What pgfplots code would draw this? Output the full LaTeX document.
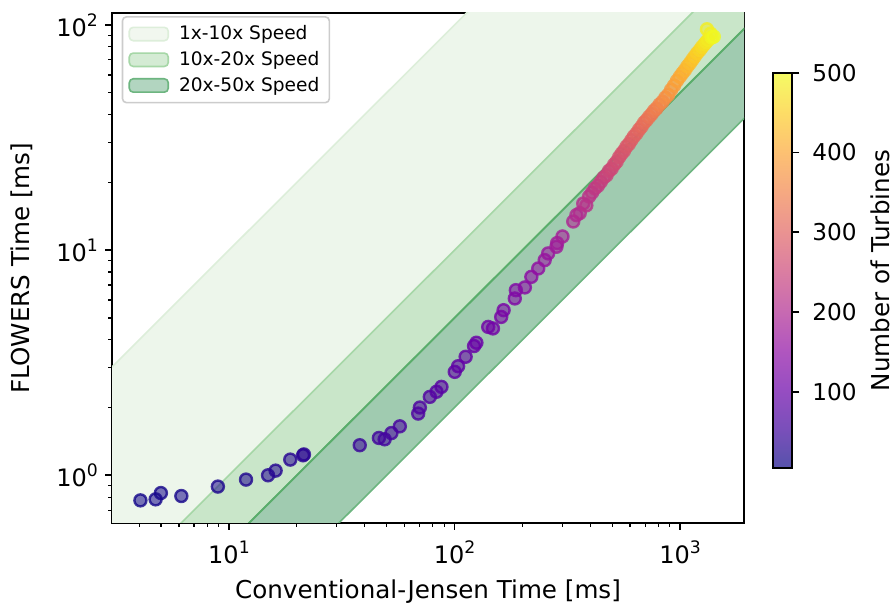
\documentclass[border=0pt]{standalone}
\usepackage{pgfplots}
\pgfplotsset{compat=1.18}
\usepackage{fontspec}
\setmainfont{DejaVu Sans}

\newcommand{\pw}[1]{10\raisebox{0.42em}{\fontsize{8.6}{10}\selectfont #1}}

\definecolor{bandA}{HTML}{EDF6EB}
\definecolor{bandAedge}{HTML}{DDEEDA}
\definecolor{bandB}{HTML}{C9E6C9}
\definecolor{bandBedge}{HTML}{A6D7A7}
\definecolor{bandC}{HTML}{A0CBB0}
\definecolor{bandCedge}{HTML}{6DB580}
\definecolor{lineC}{HTML}{5AAD6B}

\pgfplotsset{
  colormap={plasma}{rgb255=(13,8,135) rgb255=(65,4,157) rgb255=(106,0,168) rgb255=(143,13,164) rgb255=(177,42,144) rgb255=(204,71,120) rgb255=(225,100,98) rgb255=(242,132,75) rgb255=(252,166,54) rgb255=(252,206,37) rgb255=(240,249,33)},
  colormap={plasmafade}{rgb255=(86,82,171) rgb255=(122,79,186) rgb255=(151,77,194) rgb255=(177,86,191) rgb255=(200,106,177) rgb255=(219,126,161) rgb255=(234,147,145) rgb255=(246,169,129) rgb255=(253,193,114) rgb255=(253,221,102) rgb255=(245,251,100)},
}

\pgfplotstableread{
x y n
4.05 0.774 11
4.73 0.782 12
4.99 0.834 13
6.15 0.809 14
8.93 0.891 18
11.9 0.957 22
14.9 1.000 26
16.1 1.049 27
18.7 1.174 30
21.3 1.227 33
21.5 1.238 33
38.0 1.360 47
46.2 1.465 54
49.0 1.445 56
52.5 1.540 58
57.2 1.650 62
69.0 1.880 70
70.2 2.000 71
77.7 2.230 76
83.2 2.350 79
87.5 2.470 82
100.2 2.880 89
103.7 3.050 91
112 3.360 96
122 3.75 101
125 3.88 103
141 4.56 112
148 4.49 115
161 5.05 122
165 5.41 124
185 6.10 133
187 6.64 134
205 6.83 142
219 7.61 149
235 8.29 156
251 9.03 163
260 9.67 166
283 10.35 176
285 10.75 177
301 11.5 183
336 13.4 197
347 14.3 200
359 14.6 205
372 16.1 210
384 15.8 215
395 17.3 218
407 18.0 222
419 18.8 227
432 19.3 232
445 20.1 237
458 21.0 241
472 21.5 246
484 22.5 250
497 23.0 255
510 24.0 259
523 24.7 263
537 25.9 268
550 26.8 272
564 27.6 276
578 28.8 281
593 29.6 285
608 30.8 290
624 32.0 295
641 33.0 300
658 34.3 305
675 35.4 310
692 36.8 316
710 37.8 321
729 39.1 327
748 40.2 332
767 41.6 338
786 42.6 343
810 44.3 350
835 45.6 357
860 47.5 364
885 48.9 371
912 51.5 379
940 53.8 386
968 56.5 394
997 58.9 401
1023 61.0 408
1050 63.0 415
1077 65.5 422
1105 67.6 429
1132 70.0 436
1160 72.4 443
1190 75.0 450
1223 77.4 458
1250 79.8 465
1280 82.0 471
1305 84.0 478
1331 85.8 484
1365 91.5 490
1315 95.7 488
1380 88.0 494
1410 88.7 500
}\pointdata

\begin{document}
\begin{tikzpicture}
\path[use as bounding box] (-56pt,-43.5pt) rectangle (391.5pt,261.5pt);
\begin{axis}[
  at={(0,0)}, anchor=south west,
  scale only axis, width=316pt, height=255pt,
  xmode=log, ymode=log,
  xmin=3.03, xmax=1920, ymin=0.614, ymax=113,
  xtick={10,100,1000},
  xticklabels={\pw{1},\pw{2},\pw{3}},
  ytick={1,10,100},
  yticklabels={\pw{0},\pw{1},\pw{2}},
  minor xtick={4,5,6,7,8,9,20,30,40,50,60,70,80,90,200,300,400,500,600,700,800,900},
  minor ytick={0.7,0.8,0.9,2,3,4,5,6,7,8,9,20,30,40,50,60,70,80,90},
  tick pos=left, tick align=outside,
  major tick length=3.5pt, minor tick length=2pt,
  every major tick/.append style={line width=0.8pt, black},
  every minor tick/.append style={line width=0.6pt, black},
  axis line style={line width=1pt},
  ticklabel style={font=\fontsize{12}{14}\selectfont},
  xticklabel style={yshift=-2pt},
  label style={font=\fontsize{12.3}{14}\selectfont},
  xlabel={Conventional-Jensen Time [ms]},
  ylabel={FLOWERS Time [ms]},
  xlabel style={at={(axis description cs:0.5,-0.135)}, anchor=center},
  ylabel style={at={(axis description cs:-0.1424,0.5)}, anchor=center},
  legend style={at={(axis description cs:0.0153,0.994)}, anchor=north west,
    draw=black!20, line width=0.8pt, rounded corners=2pt, fill=white, fill opacity=0.8, text opacity=1,
    font=\fontsize{9.3}{11}\selectfont, inner xsep=3pt, inner ysep=2.3pt, row sep=0.3pt,
    /tikz/every odd column/.append style={column sep=3pt}},
  legend cell align=left,
  legend image code/.code={\draw[#1, line width=0.8pt] (-1.5pt,-3.35pt) rectangle (18pt,3.35pt);},
  colorbar, colormap name=plasma, point meta min=4, point meta max=500,
  colorbar style={
    colormap name=plasmafade,
    at={(parent axis.north east)}, anchor=north west, xshift=5.8pt, yshift=-29.85pt,
    scale only axis, width=9.8pt, height=197.8pt,
    ytick={100,200,300,400,500}, yticklabels={100,200,300,400,500},
    xtick=\empty,
    ytick pos=right, yticklabel pos=right, tick align=outside,
    major tick length=3.5pt,
    every major tick/.append style={line width=0.8pt, black},
    axis line style={line width=1pt},
    ticklabel style={font=\fontsize{11.6}{13}\selectfont},
    yticklabel style={xshift=3pt},
    ylabel={Number of Turbines},
    ylabel style={font=\fontsize{12.3}{14}\selectfont, at={(axis description cs:5.47,0.5)}, anchor=center},
  },
]
\addplot[fill=bandA, draw=bandAedge, line width=0.8pt] coordinates {(1,0.1) (5000,500) (5000,5000) (1,1)} -- cycle;
\addlegendentry{1x-10x Speed}
\addplot[fill=bandB, draw=bandBedge, line width=0.8pt] coordinates {(1,0.05) (5000,250) (5000,500) (1,0.1)} -- cycle;
\addlegendentry{10x-20x Speed}
\addplot[fill=bandC, draw=bandCedge, line width=0.8pt] coordinates {(1,0.02) (5000,100) (5000,250) (1,0.05)} -- cycle;
\addlegendentry{20x-50x Speed}
\addplot[forget plot, draw=lineC, line width=0.9pt] coordinates {(1,0.05) (5000,250)};
\addplot[forget plot, scatter, only marks, mark=*, mark size=3.0pt, point meta=explicit,
  scatter/use mapped color={draw=mapped color, fill=mapped color},
  mark options={fill opacity=0.55, draw opacity=0.8, line width=1.2pt}]
  table[x=x, y=y, meta=n] {\pointdata};
\end{axis}
\end{tikzpicture}
\end{document}
